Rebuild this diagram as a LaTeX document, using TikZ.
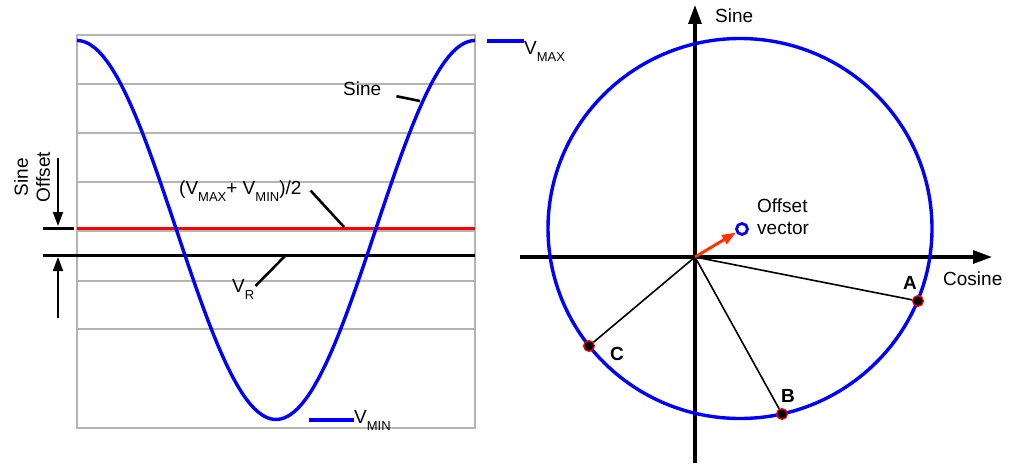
\documentclass[tikz,border=0pt]{standalone}
\usepackage{fontspec}
\setmainfont{Liberation Sans}
\usetikzlibrary{arrows.meta,positioning}
\definecolor{sineblue}{HTML}{0000FF}
\definecolor{midred}{HTML}{FF0000}
\definecolor{gridgray}{HTML}{B4B4B4}
\definecolor{vecred}{HTML}{FF3300}
\newcommand{\lowsub}[1]{\raisebox{-7pt}{\fontsize{13}{13}\selectfont #1}}

\begin{document}
\begin{tikzpicture}[
  x=1pt, y=-1pt,
  font=\fontsize{19}{22}\selectfont,
  grid/.style={
    draw=gridgray,
    line width=1.8pt
  },
  sine/.style={
    draw=sineblue,
    line width=3.4pt
  },
  level/.style={line width=3pt},
  leader/.style={line width=2.6pt},
  lbl/.style={
    inner sep=0pt,
    anchor=base west
  },
  tickarrow/.style={line width=1.8pt,-{Triangle[length=14pt,width=10pt]}},
  axis/.style={line width=3.2pt,-{Triangle[length=19pt,width=13pt]}},
  vecarrow/.style={draw=vecred,line width=3pt,-{Triangle[length=14pt,width=10pt]}},
  spoke/.style={line width=1.6pt},
  dot/.style={
    circle,
    fill=black,
    draw=red,
    line width=1.2pt,
    minimum size=10.5pt,
    inner sep=0pt
  },
  dotlbl/.style={lbl,font=\fontsize{19}{22}\selectfont\bfseries}
]
\useasboundingbox (0,0) rectangle (1011,465);

% waveform panel
\draw[grid] (77,35) rectangle (475,428);
\foreach \y in {84,133,182,231,281,329}
  \draw[grid] (77,\y) -- (475,\y);

\draw[level,midred] (77,228) -- (475,228);
\draw[level] (43,228) -- (74,228);
\draw[level] (43,255) -- (475,255);

\draw[sine] plot[domain=77:475,samples=120,smooth]
  (\x,{230-189.5*cos(0.904523*(\x-77))});

% sine offset marker
\coordinate (dntail) at (58,158);
\coordinate (dnhead) at (58,226);
\coordinate (uptail) at (58,318);
\coordinate (uphead) at (58,257);
\draw[tickarrow] (dntail) -- (dnhead);
\draw[tickarrow] (uptail) -- (uphead);
\node[rotate=90,align=center,inner sep=0pt] (offsetlbl) at (32,177) {Sine\\Offset};

% labels on the left
\node[lbl] (vmax) at (524,55) {V\lowsub{MAX}};
\coordinate (vmaxkey) at (487,41);
\draw[sine] (vmaxkey) -- (vmaxkey -| vmax.west);

\node[lbl] (vmin) at (354,423) {V\lowsub{MIN}};
\coordinate (vminkey) at (309,420);
\draw[sine] (vminkey) -- (vminkey -| vmin.west);

\node[lbl] (sinelbl) at (343,96) {Sine};
\coordinate (sinept) at (420,101);
\draw[leader] (sinelbl.east) ++(15,7) -- (sinept);

\node[lbl] (midlbl) at (179,194) {(V\lowsub{MAX}+ V\lowsub{MIN})/2};
\coordinate (midpt) at (344,227);
\draw[leader] (midlbl.east) ++(9,0) -- (midpt);

\node[lbl] (vrlbl) at (232,292) {V\lowsub{R}};
\coordinate (vrpt) at (285,256);
\draw[leader] (vrlbl.east) ++(1,-3) -- (vrpt);

% phasor panel
\coordinate (O) at (695,257);
\coordinate (xtail) at (520,257);
\coordinate (xhead) at (992,257);
\coordinate (ytail) at (695,463);
\coordinate (yhead) at (695,5);
\draw[axis] (xtail) -- (xhead);
\draw[axis] (ytail) -- (yhead);
\node[lbl] (sineaxis) at (715,23) {Sine};
\node[lbl] (cosaxis) at (943,285) {Cosine};

\draw[sine] (740,228.5) ellipse [x radius=192pt,y radius=190pt];

\node[dot] (A) at (918,301) {};
\node[dot] (B) at (782,414) {};
\node[dot] (C) at (589,346) {};
\draw[spoke] (O) -- (A);
\draw[spoke] (O) -- (B);
\draw[spoke] (O) -- (C);
\node[dot] at (A) {};
\node[dot] at (B) {};
\node[dot] at (C) {};
\node[dotlbl] (Alab) at (903,289) {A};
\node[dotlbl] (Blab) at (781,402) {B};
\node[dotlbl] (Clab) at (610,360) {C};

\node[circle,draw=sineblue,line width=2.8pt,minimum size=11pt,inner sep=0pt] (offc) at (742,229) {};
\draw[vecarrow] (O) -- (offc);
\node[lbl] (offlbl) at (757,212) {Offset};
\node[lbl] (veclbl) at (757,234) {vector};

\end{tikzpicture}
\end{document}
